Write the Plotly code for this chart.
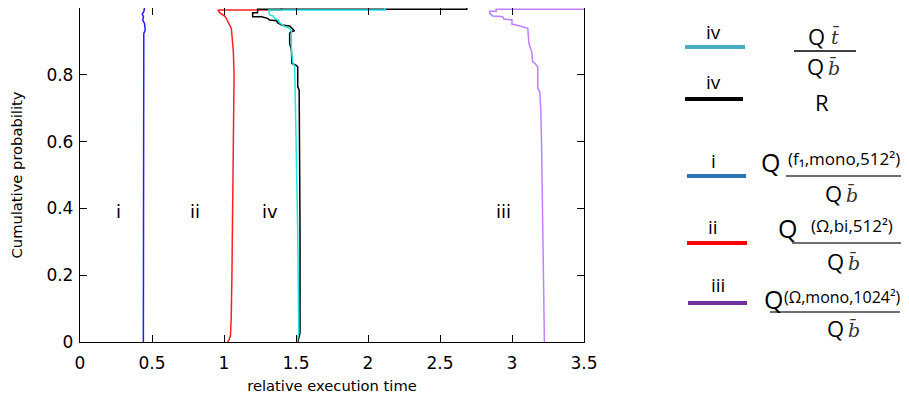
import plotly.graph_objects as go

# ---------------- data ----------------
# i : blue
i_x = [0.440, 0.440, 0.440, 0.439, 0.439, 0.443, 0.453, 0.448, 0.436, 0.441, 0.432, 0.443, 0.448]
i_y = [0.0, 0.30, 0.60, 0.844, 0.904, 0.924, 0.934, 0.954, 0.964, 0.974, 0.982, 0.989, 1.0]

# ii : red
ii_x = [1.025, 1.035, 1.045, 1.050, 1.055, 1.060, 1.065, 1.070, 1.065, 1.051, 1.039, 1.027,
        1.016, 1.004, 0.981, 0.969, 0.958, 1.400, 1.400]
ii_y = [0.0, 0.006, 0.020, 0.070, 0.200, 0.400, 0.600, 0.800, 0.870, 0.939, 0.949, 0.962,
        0.969, 0.976, 0.982, 0.986, 0.994, 0.994, 1.0]

# iv (R) : black
r_x = [1.512, 1.528, 1.528, 1.522, 1.522, 1.512, 1.512, 1.500, 1.472, 1.468, 1.456, 1.456,
       1.466, 1.490, 1.475, 1.456, 1.400, 1.372, 1.366, 1.317, 1.303, 1.261, 1.199, 1.199,
       1.233, 1.233, 2.686, 2.686]
r_y = [0.0, 0.027, 0.326, 0.626, 0.754, 0.764, 0.824, 0.829, 0.834, 0.874, 0.894, 0.924,
       0.929, 0.932, 0.937, 0.946, 0.949, 0.956, 0.962, 0.964, 0.969, 0.974, 0.974, 0.986,
       0.986, 0.996, 0.996, 1.0]

# iv (Qt/Qb) : cyan
iv_x = [1.507, 1.519, 1.512, 1.502, 1.498, 1.491, 1.479, 1.468, 1.468, 1.456, 1.421, 1.409,
        1.386, 1.375, 1.352, 1.340, 1.317, 1.310, 2.120, 2.120]
iv_y = [0.0, 0.027, 0.326, 0.626, 0.754, 0.824, 0.835, 0.874, 0.929, 0.939, 0.944, 0.949,
        0.956, 0.964, 0.969, 0.976, 0.979, 0.994, 0.994, 1.0]

# iii : purple
iii_x = [3.225, 3.220, 3.210, 3.205, 3.200, 3.193, 3.179, 3.179, 3.158, 3.144, 3.137, 3.124,
         3.117, 3.110, 3.075, 3.030, 2.999, 3.000, 2.943, 2.936, 2.866, 2.846, 2.846, 2.890,
         2.890, 3.600]
iii_y = [0.0, 0.200, 0.400, 0.600, 0.695, 0.749, 0.760, 0.823, 0.835, 0.838, 0.868, 0.883,
         0.895, 0.939, 0.944, 0.949, 0.952, 0.964, 0.967, 0.974, 0.976, 0.984, 0.990, 0.990,
         0.996, 0.996]

x_ticks = [0, 0.5, 1, 1.5, 2, 2.5, 3, 3.5]
x_tick_text = ["0", "0.5", "1", "1.5", "2", "2.5", "3", "3.5"]
y_ticks = [0, 0.2, 0.4, 0.6, 0.8, 1]
y_tick_text = ["0", "0.2", "0.4", "0.6", "0.8", "1"]

region_labels = ["i", "ii", "iv", "iii"]
region_x = [0.27, 0.80, 1.32, 2.94]
region_y = [0.39, 0.39, 0.39, 0.39]

# ---------------- figure ----------------
W, H = 909, 396
OFF = 8                       # page offset of the plot div
L, R, T, B = 80, 584, 8, 342  # plot area in page pixels


def px(x):
    return (x - L) / (R - L)


def py(y):
    return (B - y) / (B - T)


fig = go.Figure()
series = [
    (i_x, i_y, "#1f1fff"),
    (ii_x, ii_y, "#ff1f1f"),
    (r_x, r_y, "#000000"),
    (iv_x, iv_y, "#1ee6e6"),
    (iii_x, iii_y, "#c080ff"),
]
for xs, ys, c in series:
    fig.add_trace(go.Scatter(x=xs, y=ys, mode="lines", line=dict(color=c, width=1.5),
                             showlegend=False, hoverinfo="skip"))

annotations = []
for t, x, y in zip(region_labels, region_x, region_y):
    annotations.append(dict(x=x, y=y, xref="x", yref="y", text=t, showarrow=False,
                            font=dict(family="DejaVu Sans", size=18, color="black")))

shapes = []
lab_font = dict(family="Open Sans", size=19, color="black")
q_font = dict(family="Open Sans", size=22, color="black")
sup_font = dict(family="Open Sans", size=17, color="black")
bar_font = dict(family="DejaVu Serif", size=19, color="#333333")


def txt(x, y, s, font, xanchor="center"):
    annotations.append(dict(x=px(x), y=py(y), xref="paper", yref="paper", text=s,
                            showarrow=False, font=font, xanchor=xanchor, yanchor="middle"))


def hline(x0, x1, y, color, width):
    shapes.append(dict(type="line", xref="paper", yref="paper", x0=px(x0), x1=px(x1),
                       y0=py(y), y1=py(y), line=dict(color=color, width=width)))


def qb(xq, y):
    txt(xq, y, "Q", q_font)
    txt(xq + 19, y + 1, "<i>b\u0304</i>", bar_font)


# entry 1: cyan
txt(713, 32, "iv", lab_font)
hline(685, 745, 47, "#4bacc6", 4)
txt(816, 36, "Q", q_font)
txt(835, 37, "<i>t\u0304</i>", bar_font)
hline(794, 856, 51, "#000000", 1.3)
qb(815, 66)

# entry 2: black
txt(713, 82, "iv", lab_font)
hline(685, 743, 99, "#000000", 4)
txt(822, 102, "R", dict(family="Open Sans", size=22, color="black"))

# entry 3: blue
txt(713, 161, "i", lab_font)
hline(687, 746, 176, "#2e75b6", 4)
txt(770, 162, "Q", dict(family="Open Sans", size=25, color="black"))
txt(844, 159, "(f\u2081,mono,512\u00b2)", sup_font)
hline(786, 905, 176, "#404040", 1.3)
qb(833, 193)

# entry 4: red
txt(713, 227, "ii", lab_font)
hline(687, 747, 243, "#ff0000", 4)
txt(787, 228, "Q", dict(family="Open Sans", size=25, color="black"))
txt(852, 225, "(\u03a9,bi,512\u00b2)", sup_font)
hline(792, 905, 243, "#404040", 1.3)
qb(835, 261)

# entry 5: purple
txt(718, 285, "iii", lab_font)
hline(688, 747, 303, "#7030a0", 4)
txt(773, 299, "Q", dict(family="Open Sans", size=25, color="black"))
txt(842, 297, "(\u03a9,mono,1024\u00b2)", dict(family="Open Sans", size=16, color="black"))
hline(770, 900, 312, "#404040", 1.3)
qb(835, 328)

axis_common = dict(showline=True, linecolor="black", linewidth=1.3, mirror="ticks",
                   ticks="inside", ticklen=7, tickcolor="black", tickwidth=1,
                   showgrid=False, zeroline=False,
                   tickfont=dict(family="DejaVu Sans", size=17, color="black"))

fig.update_layout(
    width=W, height=H,
    margin=dict(l=L - OFF, r=W - (R - OFF), t=T - OFF, b=H - (B - OFF)),
    paper_bgcolor="white", plot_bgcolor="white",
    xaxis=dict(range=[0, 3.5], tickvals=x_ticks, ticktext=x_tick_text, ticklabelstandoff=5,
               title=dict(text="relative execution time",
                          font=dict(family="DejaVu Sans", size=14.7, color="black"), standoff=9),
               **axis_common),
    yaxis=dict(range=[0, 1], tickvals=y_ticks, ticktext=y_tick_text, ticklabelstandoff=2,
               title=dict(text="Cumulative probability",
                          font=dict(family="DejaVu Sans", size=14.7, color="black"), standoff=22),
               **axis_common),
    annotations=annotations,
    shapes=shapes,
)

fig.write_html("out.html")
